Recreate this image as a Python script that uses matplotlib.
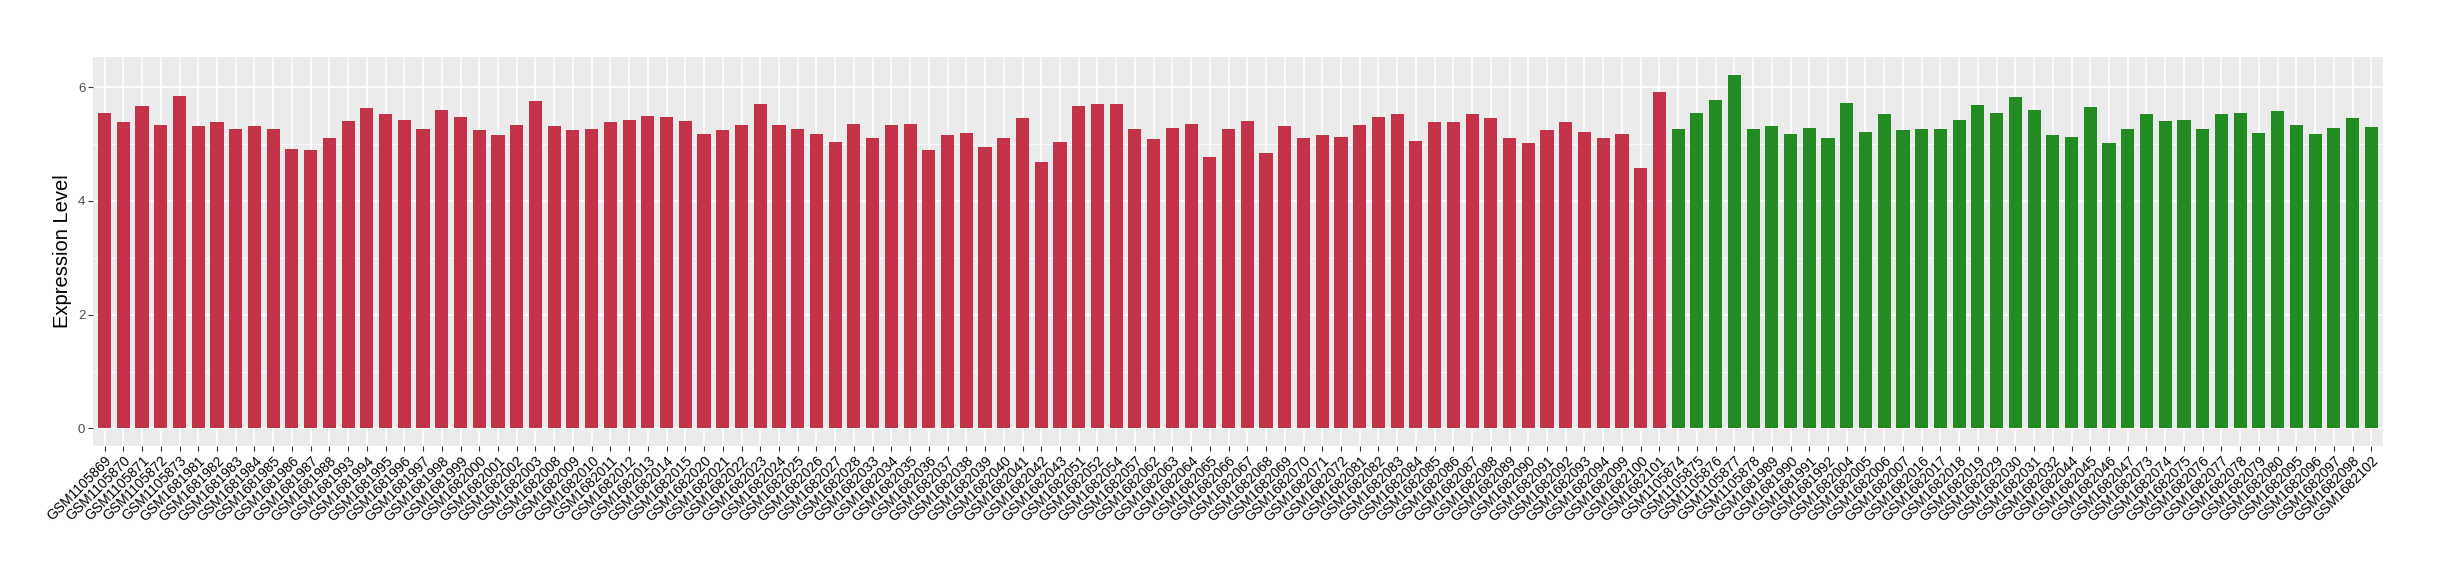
import matplotlib
matplotlib.use("Agg")
import matplotlib.pyplot as plt
from matplotlib.ticker import MultipleLocator

plt.rcParams['font.family'] = ['Liberation Sans', 'DejaVu Sans']

# sample ids, in plotting order
red_ids = (
    ["GSM%d" % n for n in range(1105869, 1105874)]
    + ["GSM%d" % n for n in range(1681981, 1681989)]
    + ["GSM%d" % n for n in range(1681993, 1682004)]
    + ["GSM%d" % n for n in range(1682008, 1682016)]
    + ["GSM%d" % n for n in range(1682020, 1682029)]
    + ["GSM%d" % n for n in range(1682033, 1682044)]
    + ["GSM1682051", "GSM1682052", "GSM1682054", "GSM1682057", "GSM1682062"]
    + ["GSM%d" % n for n in range(1682063, 1682073)]
    + ["GSM%d" % n for n in range(1682081, 1682095)]
    + ["GSM1682099", "GSM1682100", "GSM1682101"]
)
green_ids = (
    ["GSM%d" % n for n in range(1105874, 1105879)]
    + ["GSM%d" % n for n in range(1681989, 1681993)]
    + ["GSM%d" % n for n in range(1682004, 1682008)]
    + ["GSM%d" % n for n in range(1682016, 1682020)]
    + ["GSM%d" % n for n in range(1682029, 1682033)]
    + ["GSM%d" % n for n in range(1682044, 1682048)]
    + ["GSM%d" % n for n in range(1682073, 1682081)]
    + ["GSM%d" % n for n in range(1682095, 1682099)]
    + ["GSM1682102"]
)

red_vals = [
    5.55, 5.38, 5.66, 5.33, 5.84, 5.31, 5.38, 5.27, 5.31, 5.26,
    4.92, 4.90, 5.11, 5.40, 5.64, 5.52, 5.43, 5.26, 5.59, 5.47,
    5.24, 5.15, 5.33, 5.75, 5.31, 5.24, 5.26, 5.38, 5.43, 5.50,
    5.47, 5.41, 5.17, 5.24, 5.33, 5.71, 5.34, 5.27, 5.18, 5.03,
    5.36, 5.11, 5.34, 5.36, 4.89, 5.15, 5.20, 4.94, 5.11, 5.45,
    4.69, 5.03, 5.66, 5.70, 5.71, 5.26, 5.08, 5.29, 5.36, 4.78,
    5.27, 5.40, 4.85, 5.31, 5.10, 5.15, 5.13, 5.34, 5.47, 5.52,
    5.06, 5.38, 5.38, 5.52, 5.45, 5.10, 5.01, 5.24, 5.38, 5.22,
    5.11, 5.18, 4.57, 5.91,
]
green_vals = [
    5.27, 5.54, 5.78, 6.22, 5.26, 5.31, 5.18, 5.29, 5.10, 5.73,
    5.22, 5.52, 5.24, 5.26, 5.26, 5.43, 5.68, 5.55, 5.82, 5.60,
    5.15, 5.13, 5.65, 5.02, 5.27, 5.52, 5.40, 5.43, 5.27, 5.52,
    5.55, 5.20, 5.58, 5.33, 5.17, 5.29, 5.46, 5.30,
]

labels = red_ids + green_ids
values = red_vals + green_vals
colors = ["#C23248"] * len(red_vals) + ["#228B22"] * len(green_vals)

fig = plt.figure(figsize=(24.4, 5.8), dpi=100)
ax = fig.add_axes([0.0381, 0.231, 0.9385, 0.6707])
ax.set_facecolor("#EBEBEB")

x = list(range(len(values)))
ax.bar(x, values, width=0.7, color=colors, zorder=3)

ax.set_xlim(-0.62, len(values) - 1 + 0.62)
ax.set_ylim(-0.31, 6.53)
ax.yaxis.set_major_locator(MultipleLocator(2))
ax.yaxis.set_minor_locator(MultipleLocator(1))
ax.set_xticks(x)
ax.set_xticklabels(labels, rotation=45, ha="right", rotation_mode="anchor",
                   fontsize=10, color="black")

ax.grid(which="major", color="white", linewidth=1.1, zorder=0)
ax.grid(which="minor", axis="y", color="white", linewidth=0.55, zorder=0)
ax.set_axisbelow(True)
for s in ax.spines.values():
    s.set_visible(False)

ax.tick_params(axis="both", which="major", length=3.5, width=0.8,
               color="#333333", pad=2)
ax.tick_params(axis="y", labelsize=9.5, labelcolor="#4D4D4D")
ax.tick_params(axis="y", which="minor", length=0)

ax.set_ylabel("Expression Level", fontsize=14.5, labelpad=4)

fig.savefig("out.png", dpi=100)
